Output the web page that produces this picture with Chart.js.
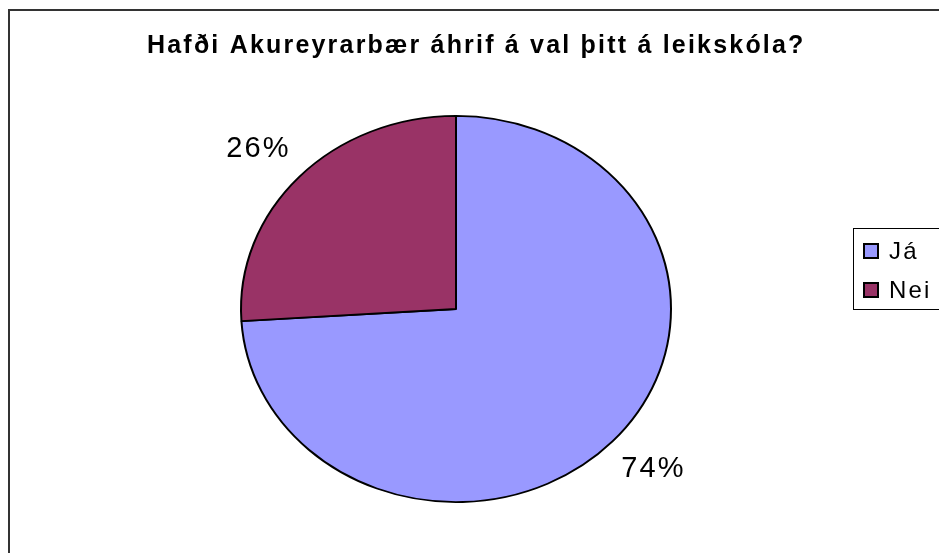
<!DOCTYPE html>
<html>
<head>
<meta charset="utf-8">
<script src="https://cdn.jsdelivr.net/npm/chart.js@4/dist/chart.umd.min.js"></script>
<style>
  html, body { margin:0; padding:0; background:#fff; overflow:hidden; }
  #wrap { width:939px; height:553px; }
</style>
</head>
<body>
<div id="wrap"><canvas id="pieChart" width="939" height="553"></canvas></div>
<script>
const chartTitle = 'Hafði Akureyrarbær áhrif á val þitt á leikskóla?';
const labels = ['Já', 'Nei'];
const values = [74, 26];
const sliceColors = ['#9999FF', '#993366'];

const FONT = "'Liberation Sans', Arial, sans-serif";
const Y_SQUASH = 194 / 216;   // the original pie is a little wider than tall

// letter spacing like the original rendering
const spacing = {
  id: 'spacing',
  beforeUpdate(chart) { chart.ctx.letterSpacing = '2.2px'; },
  beforeDraw(chart) { chart.ctx.letterSpacing = '2.2px'; }
};

// outer frame
const frame = {
  id: 'frame',
  beforeDraw(chart) {
    const ctx = chart.ctx;
    ctx.save();
    ctx.strokeStyle = '#333';
    ctx.lineWidth = 2;
    ctx.strokeRect(9, 10, chart.width + 20, chart.height + 20);
    ctx.restore();
  }
};

// Excel style boxed legend, added as a layout box on the right
const boxLegend = {
  id: 'boxLegend',
  beforeInit(chart) {
    const box = {
      position: 'right',
      weight: 10,
      fullSize: false,
      options: {},
      isHorizontal() { return false; },
      getPadding() { return { left: 0, top: 0, right: 0, bottom: 0 }; },
      update(maxWidth, maxHeight) {
        this.width = 174;
        this.height = maxHeight;
        return { width: this.width, height: this.height };
      },
      draw() {
        const ds = chart.data.datasets[0];
        const ctx = chart.ctx;
        const left = this.left + 88, top = this.top + 135, rowH = 39;
        ctx.save();
        ctx.strokeStyle = '#000';
        ctx.lineWidth = 1;
        ctx.strokeRect(left + 0.5, top + 0.5, chart.width, 81);
        ctx.font = '24px ' + FONT;
        ctx.textBaseline = 'middle';
        ctx.textAlign = 'left';
        chart.data.labels.forEach((lab, i) => {
          const cy = top + 23 + i * rowH;
          ctx.fillStyle = ds.backgroundColor[i];
          ctx.fillRect(left + 11, cy - 7, 14, 14);
          ctx.lineWidth = 2;
          ctx.strokeStyle = '#000';
          ctx.strokeRect(left + 11, cy - 7, 14, 14);
          ctx.fillStyle = '#000';
          ctx.fillText(lab, left + 36, cy + 1);
        });
        ctx.restore();
      }
    };
    Chart.layouts.addBox(chart, box);
  }
};

// squash the pie vertically round its centre
const ellipse = {
  id: 'ellipse',
  beforeDatasetsDraw(chart) {
    const arc = chart.getDatasetMeta(0).data[0];
    if (!arc) return;
    const ctx = chart.ctx;
    ctx.save();
    ctx.translate(arc.x, arc.y);
    ctx.scale(1, Y_SQUASH);
    ctx.translate(-arc.x, -arc.y);
  },
  afterDatasetsDraw(chart) {
    chart.ctx.restore();
  }
};

// percentage labels just outside each slice
const pctLabels = {
  id: 'pctLabels',
  afterDatasetsDraw(chart) {
    const meta = chart.getDatasetMeta(0);
    const total = values.reduce((a, b) => a + b, 0);
    const ctx = chart.ctx;
    ctx.save();
    ctx.font = '29px ' + FONT;
    ctx.fillStyle = '#000';
    ctx.textAlign = 'center';
    ctx.textBaseline = 'middle';
    meta.data.forEach((arc, i) => {
      const mid = (arc.startAngle + arc.endAngle) / 2;
      const r = arc.outerRadius;
      const x = arc.x + Math.cos(mid) * r * 1.26;
      const y = arc.y + Math.sin(mid) * r * Y_SQUASH * 1.21;
      ctx.fillText(Math.round(values[i] / total * 100) + '%', x, y);
    });
    ctx.restore();
  }
};

new Chart(document.getElementById('pieChart').getContext('2d'), {
  type: 'pie',
  data: {
    labels: labels,
    datasets: [{
      data: values,
      backgroundColor: sliceColors,
      borderColor: '#000',
      borderWidth: 2,
      hoverOffset: 0
    }]
  },
  options: {
    responsive: false,
    animation: false,
    events: [],
    layout: { padding: { left: 147, right: 0, top: 0, bottom: 28 } },
    plugins: {
      title: {
        display: true,
        text: chartTitle,
        align: 'start',
        color: '#000',
        font: { family: FONT, size: 25, weight: 'bold' },
        padding: { top: 31, bottom: 32 }
      },
      legend: { display: false },
      tooltip: { enabled: false }
    }
  },
  plugins: [spacing, frame, boxLegend, ellipse, pctLabels]
});
</script>
</body>
</html>
